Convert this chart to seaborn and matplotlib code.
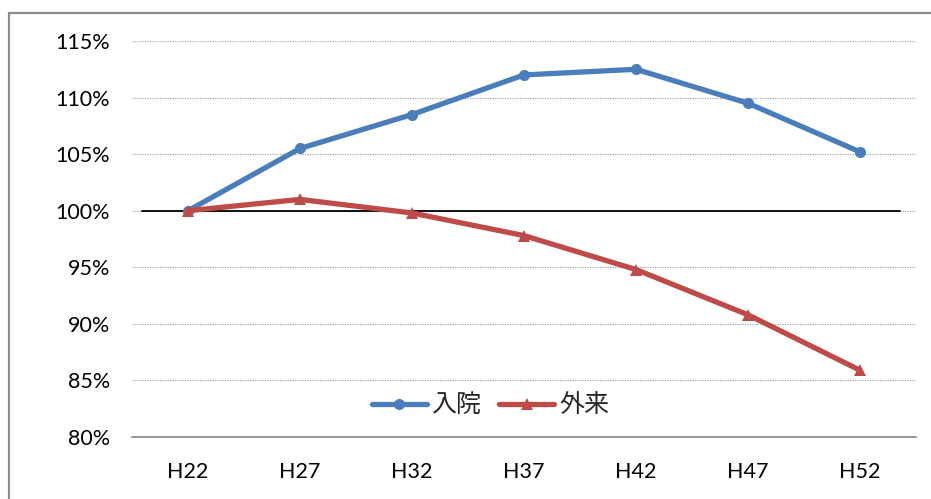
import matplotlib
matplotlib.use("Agg")
import matplotlib.pyplot as plt
import matplotlib.ticker as mticker
from matplotlib.patches import Rectangle
import seaborn as sns
import pandas as pd

# Ratio to the H22 baseline
years = ["H22", "H27", "H32", "H37", "H42", "H47", "H52"]
inpatient = [1.000, 1.055, 1.085, 1.120, 1.125, 1.095, 1.052]
outpatient = [1.000, 1.010, 0.998, 0.978, 0.948, 0.908, 0.859]
series_names = ["入院", "外来"]
y_ticks = [0.80, 0.85, 0.90, 0.95, 1.00, 1.05, 1.10, 1.15]

sns.set_theme(style="white")
plt.rcParams["font.family"] = ["Lato", "Noto Sans CJK JP", "DejaVu Sans"]

df = pd.DataFrame({
    "year": list(range(len(years))) * 2,
    "ratio": inpatient + outpatient,
    "series": [series_names[0]] * len(years) + [series_names[1]] * len(years),
})

fig = plt.figure(figsize=(9.31, 4.99), dpi=100)
ax = fig.add_axes([132 / 931, 1 - 437 / 499, 784 / 931, 396 / 499])

# chart-area border
fig.patches.append(Rectangle((9 / 931, -0.1), 1.2, 1 - 13 / 499 + 0.1,
                             transform=fig.transFigure, fill=False,
                             edgecolor="#8c8c8c", linewidth=1.6, clip_on=False))

# dotted gridlines
for v in y_ticks[1:]:
    ax.axhline(v, color="#a6a6a6", linewidth=0.9, linestyle=(0, (1, 1)), zorder=0)
# baseline at 100%
ax.axhline(1.0, xmin=10 / 784, xmax=768 / 784, color="black", linewidth=1.3, zorder=1)

sns.lineplot(data=df, x="year", y="ratio", hue="series", style="series",
             palette=["#4a7ebb", "#be4b48"], markers=["o", "^"], dashes=False,
             linewidth=3.8, markersize=8, markeredgewidth=0, ax=ax, zorder=3)

ax.set_xlim(-0.5, len(years) - 0.5)
ax.set_ylim(0.80, 1.15)
ax.set_xticks(range(len(years)))
ax.set_xticklabels(years)
ax.xaxis.set_minor_locator(mticker.FixedLocator([i - 0.5 for i in range(len(years) + 1)]))
ax.set_yticks(y_ticks)
ax.yaxis.set_major_formatter(mticker.FuncFormatter(lambda v, p: f"{v * 100:.0f}%"))
ax.tick_params(axis="x", which="major", length=0, pad=18, labelsize=15.5, labelcolor="black")
ax.tick_params(axis="x", which="minor", length=7, width=1.2, color="#8c8c8c", direction="out")
ax.tick_params(axis="y", length=0, pad=16, labelsize=15.5, labelcolor="black")
ax.set_xlabel("")
ax.set_ylabel("")

for s in ["top", "right", "left"]:
    ax.spines[s].set_visible(False)
ax.spines["bottom"].set_color("#8c8c8c")
ax.spines["bottom"].set_linewidth(1.3)

leg = ax.legend(loc="center", bbox_to_anchor=(0.457, 0.081), ncol=2, frameon=False,
                fontsize=18, handlelength=2.2, columnspacing=0.7, handletextpad=0.2)

fig.savefig("out.png", dpi=100)
